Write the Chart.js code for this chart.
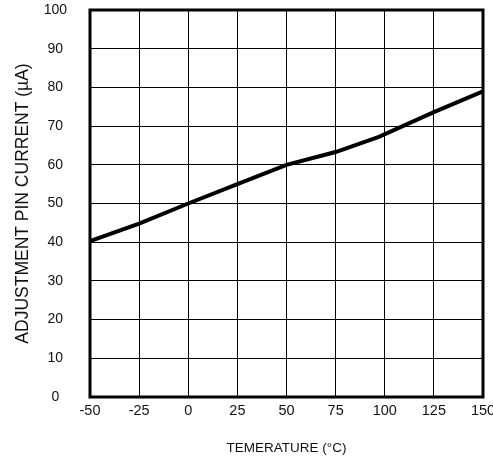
<!DOCTYPE html>
<html>
<head>
    <meta charset="utf-8" />
    <title></title>
    <style>
        body { margin: 0; background: #fff; }
        #wrap { width: 493px; height: 468px; }
    </style>
</head>
<body>
    <div id="wrap">
        <canvas id="chart"></canvas>
    </div>

    <script src="https://cdn.jsdelivr.net/npm/chart.js"></script>
    <script type="text/javascript">

        // temperatura (°C) y corriente (uA)
        var temperaturas = [-50, -25, 0, 25, 50, 75, 97, 125, 150];
        var corrientes = [40.3, 44.8, 50, 55, 60, 63.3, 67.2, 73.6, 79];

        var xTicks = [-50, -25, 0, 25, 50, 75, 100, 125, 150];
        var yTicks = [0, 10, 20, 30, 40, 50, 60, 70, 80, 90, 100];

        var puntos = temperaturas.map(function (t, i) {
            return { x: t, y: corrientes[i] };
        });

        // marco grueso alrededor del area de la grafica
        const marco = {
            id: 'marco',
            afterDraw(chart) {
                const a = chart.chartArea;
                const ctx = chart.ctx;
                ctx.save();
                ctx.strokeStyle = '#000';
                ctx.lineWidth = 3;
                ctx.strokeRect(a.left, a.top, a.right - a.left, a.bottom - a.top);
                ctx.restore();
            }
        };

        const fuente = 'Liberation Sans, Arial';

        const ctx = document.getElementById('chart').getContext('2d');
        let myChart = new Chart(ctx, {
            type: 'scatter',
            data: {
                datasets: [{
                    data: puntos,
                    showLine: true,
                    borderColor: '#000',
                    borderWidth: 4,
                    pointRadius: 0,
                    tension: 0
                }]
            },
            options: {
                responsive: true,
                maintainAspectRatio: false,
                animation: false,
                layout: { padding: 0 },
                plugins: {
                    legend: { display: false },
                    tooltip: { enabled: false }
                },
                scales: {
                    x: {
                        type: 'linear',
                        min: -50,
                        max: 150,
                        afterBuildTicks: function (axis) {
                            axis.ticks = xTicks.map(function (v) { return { value: v }; });
                        },
                        afterFit: function (axis) {
                            axis.height = 71;
                            axis.paddingLeft = 0;
                            axis.paddingRight = 10;
                        },
                        grid: { color: '#000', lineWidth: 1, drawTicks: false },
                        border: { display: false },
                        ticks: {
                            color: '#111',
                            padding: 5,
                            maxRotation: 0,
                            font: { family: fuente, size: 14.5 }
                        },
                        title: {
                            display: true,
                            text: 'TEMERATURE (°C)',
                            color: '#111',
                            padding: { top: 0, bottom: 12 },
                            font: { family: fuente, size: 13.5 }
                        }
                    },
                    y: {
                        min: 0,
                        max: 100,
                        afterBuildTicks: function (axis) {
                            axis.ticks = yTicks.map(function (v) { return { value: v }; });
                        },
                        afterFit: function (axis) {
                            axis.width = 90;
                            axis.paddingTop = 10;
                            axis.paddingBottom = 0;
                        },
                        grid: { color: '#000', lineWidth: 1, drawTicks: false },
                        border: { display: false },
                        ticks: {
                            color: '#111',
                            padding: 23,
                            crossAlign: 'center',
                            font: { family: fuente, size: 14 }
                        },
                        title: {
                            display: true,
                            text: 'ADJUSTMENT PIN CURRENT (µA)',
                            color: '#111',
                            padding: { top: 13, bottom: 0 },
                            font: { family: fuente, size: 17.5 }
                        }
                    }
                }
            },
            plugins: [marco]
        });
    </script>
</body>
</html>
